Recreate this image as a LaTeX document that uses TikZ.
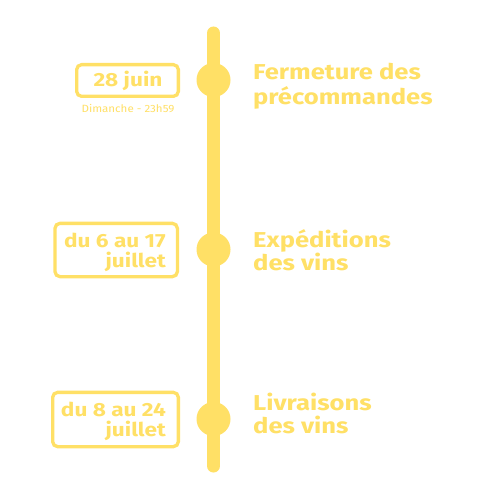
\documentclass[tikz,border=0pt]{standalone}
\usepackage{fontspec}
\setmainfont{Fira Sans}[FakeStretch=1.19]
\newfontfamily\smallfont{Fira Sans}[FakeStretch=1.1]
\definecolor{gold}{HTML}{FFE066}
\begin{document}
\begin{tikzpicture}[x=1pt,y=-1pt,
  datebox/.style={draw=gold,line width=3.3pt,rounded corners=5pt,inner sep=0pt},
  boxtext/.style={text=gold,inner sep=0pt,font=\bfseries\fontsize{19}{18}\selectfont},
  title/.style={text=gold,inner sep=0pt,anchor=base west,font=\bfseries\fontsize{21.5}{21}\selectfont},
  dot/.style={circle,fill=gold,minimum size=34pt,inner sep=0pt}]
\useasboundingbox[fill=white] (0,0) rectangle (500,500);
% timeline
\coordinate (top) at (213.5,33);
\coordinate (bot) at (213.5,466);
\draw[gold,line width=13pt,line cap=round] (top) -- (bot);
\node[dot] (d1) at (213.5,80) {};
\node[dot] (d2) at (213.5,249.5) {};
\node[dot] (d3) at (213.5,419) {};
% boxes
\node[datebox,minimum width=101.7pt,minimum height=31.7pt] (b1) at (127.5,80.5) {};
\node[datebox,minimum width=122.4pt,minimum height=53.3pt] (b2) at (116.2,250) {};
\node[datebox,minimum width=125.7pt,minimum height=54.3pt] (b3) at (115.5,419.5) {};
\node[boxtext,anchor=base] (t1) at (128,86.5) {28 juin};
\node[text=gold,inner sep=0pt,anchor=base,font=\smallfont\fontsize{10.5}{12}\selectfont] (s1) at (128,112.5) {Dimanche - 23h59};
\node[boxtext,anchor=base east] (t2) at (166,247) {\begin{tabular}[t]{@{}r@{}}du 6 au 17\\juillet\end{tabular}};
\node[boxtext,anchor=base east] (t3) at (166,416) {\begin{tabular}[t]{@{}r@{}}du 8 au 24\\juillet\end{tabular}};
% titles
\node[title] (h1) at (253,80) {\begin{tabular}[t]{@{}l@{}}Fermeture des\\précommandes\end{tabular}};
\node[title] (h2) at (253,247) {\begin{tabular}[t]{@{}l@{}}Expéditions\\des vins\end{tabular}};
\node[title] (h3) at (253,410) {\begin{tabular}[t]{@{}l@{}}Livraisons\\des vins\end{tabular}};
\end{tikzpicture}
\end{document}
